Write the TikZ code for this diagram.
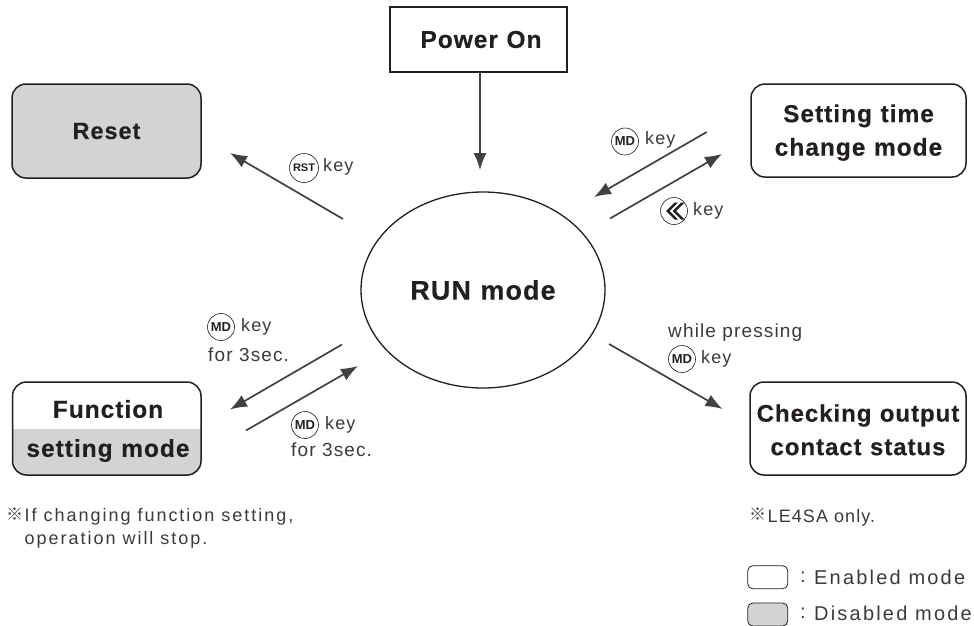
\documentclass[tikz,border=0pt]{standalone}
\usepackage{fontspec}
\setmainfont{Liberation Sans}
\newfontfamily\boldsp[LetterSpace=4,WordSpace=1.1,FakeBold=0.25]{Liberation Sans Bold}
\newfontfamily\regsp[LetterSpace=6]{Liberation Sans}
\newfontfamily\regwide[LetterSpace=11]{Liberation Sans}
\newfontfamily\keyf{Liberation Sans Bold}
\newfontfamily\cjkf{Noto Sans CJK KR}
\usetikzlibrary{arrows.meta,calc,shapes.geometric}
\definecolor{ink}{HTML}{231F20}
\definecolor{arrowc}{HTML}{414042}
\definecolor{txt}{HTML}{3A3A3C}
\definecolor{dis}{HTML}{D1D3D4}
\tikzset{
  x=1pt,y=-1pt,
  modebox/.style={draw=ink,line width=1.5pt,rounded corners=14pt,inner sep=0pt,align=center,anchor=center},
  boxtext/.style={font=\boldsp\fontsize{24.5}{33.5}\selectfont,text=ink,align=center,inner sep=0pt},
  flow/.style={draw=arrowc,line width=1.7pt,-{Latex[length=17pt,width=13pt]}},
  keycirc/.style={circle,draw=ink,line width=0.6pt,minimum size=27pt,inner sep=0pt,font=\keyf\fontsize{13}{14}\selectfont,text=ink},
  lab/.style={font=\regsp\fontsize{19}{26}\selectfont,text=txt,anchor=west,inner sep=0pt,align=left},
  keylab/.style={font=\regsp\fontsize{18}{26}\selectfont,text=txt,anchor=west,inner sep=0pt},
  note/.style={font=\regwide\fontsize{18}{23}\selectfont,text=txt,anchor=north west,inner sep=0pt,align=left},
  legtext/.style={font=\regwide\fontsize{20}{22}\selectfont,text=txt,anchor=west,inner sep=0pt},
  legbox/.style={draw=ink,line width=0.8pt,rounded corners=5pt,minimum width=40pt,minimum height=23pt,inner sep=0pt},
}
\begin{document}
\begin{tikzpicture}
\useasboundingbox (0,0) rectangle (974,625);
% function box gray part
\begin{scope}
  \clip[rounded corners=14pt] (12.5,382) rectangle (201,475);
  \fill[dis] (12,429) rectangle (202,476);
\end{scope}
\node[draw=ink,line width=1.8pt,minimum width=177pt,minimum height=64.5pt,inner sep=0pt,boxtext] (power) at (478.5,39.5) {\hspace*{5pt}Power On};
\node[modebox,fill=dis,minimum width=189pt,minimum height=94pt,boxtext,font=\boldsp\fontsize{23.5}{30}\selectfont] (reset) at (106.5,131) {Reset};
\node[modebox,minimum width=215pt,minimum height=93pt,boxtext] (setting) at (858.5,130.5) {\rule{0pt}{22pt}Setting time\\change mode};
\node[modebox,minimum width=216pt,minimum height=93pt,boxtext,font=\boldsp\fontsize{24}{33.5}\selectfont] (check) at (858,428.5) {\rule{0pt}{20pt}Checking output\\contact status};
\node[modebox,minimum width=188.5pt,minimum height=93pt] (func) at (106.75,428.5) {};
\node[boxtext] (funca) at (108,409) {Function};
\node[boxtext] (funcb) at (108,450.5) {setting mode};
\node[draw=ink,line width=1.3pt,ellipse,minimum width=244pt,minimum height=196pt,inner sep=0pt,boxtext,font=\boldsp\fontsize{27}{30}\selectfont] (run) at (483,290) {RUN mode};
% free ends
\coordinate (a1) at (480,71.5); \coordinate (a2) at (480,170);
\coordinate (b1) at (343,219); \coordinate (b2) at (230,153);
\coordinate (c1) at (706.7,132); \coordinate (c2) at (594,197);
\coordinate (d1) at (610,218.5); \coordinate (d2) at (722,154);
\coordinate (e1) at (342,344.5); \coordinate (e2) at (230,409.5);
\coordinate (f1) at (246,430.5); \coordinate (f2) at (358,366);
\coordinate (g1) at (609,344); \coordinate (g2) at (722.5,409);
\draw[flow] (a1) -- (a2);
\draw[flow] (b1) -- (b2);
\draw[flow] (c1) -- (c2);
\draw[flow] (d1) -- (d2);
\draw[flow] (e1) -- (e2);
\draw[flow] (f1) -- (f2);
\draw[flow] (g1) -- (g2);
% key labels
\node[keycirc,minimum size=29pt,font=\keyf\fontsize{11}{12}\selectfont] (krst) at (304,168) {RST};
\node[keylab] (lrst) at (323,167) {key};
\node[keycirc] (kmd1) at (625,141.5) {MD};
\node[keylab] (lmd1) at (645,140) {key};
\node[keycirc] (kback) at (674,211) {};
\fill[ink] (kback.center) ++(-8,0) -- ++(8.5,-8.5) -- ++(3.5,0) -- ++(-8.5,8.5) -- ++(8.5,8.5) -- ++(-3.5,0) -- cycle;
\fill[ink] (kback.center) ++(-1.5,0) -- ++(8.5,-8.5) -- ++(3.5,0) -- ++(-8.5,8.5) -- ++(8.5,8.5) -- ++(-3.5,0) -- cycle;
\node[keylab] (lback) at (693,211) {key};
\node[keycirc] (kmd2) at (221,327) {MD};
\node[keylab] (lmd2) at (241,327) {key};
\node[lab] (lmd2b) at (208,355) {for 3sec.};
\node[keycirc] (kmd3) at (305,425) {MD};
\node[keylab] (lmd3) at (325,425) {key};
\node[lab] (lmd3b) at (291,450) {for 3sec.};
\node[lab] (lwhile) at (668,333) {while pressing};
\node[keycirc] (kmd4) at (682,359) {MD};
\node[keylab] (lmd4) at (701,359) {key};
% notes
\node[note,font=\cjkf\fontsize{17}{23}\selectfont] (n1a) at (6,507.5) {※};
\node[note] (n1b) at (24.5,508.5) {If changing function setting,\\operation will stop.};
\node[note,font=\cjkf\fontsize{17}{23}\selectfont] (n2a) at (749,507.5) {※};
\node[note,font=\regsp\fontsize{18}{23}\selectfont] (n2b) at (767.5,509) {LE4SA only.};
% legend
\node[legbox] (leg1) at (767.75,577.25) {};
\node[legbox,fill=dis] (leg2) at (767.75,614.5) {};
\node[legtext] (t0a) at (800,577) {:};
\node[legtext] (t1) at (814,577) {Enabled mode};
\node[legtext] (t0b) at (800,613) {:};
\node[legtext] (t2) at (814,613) {Disabled mode};
\end{tikzpicture}
\end{document}
